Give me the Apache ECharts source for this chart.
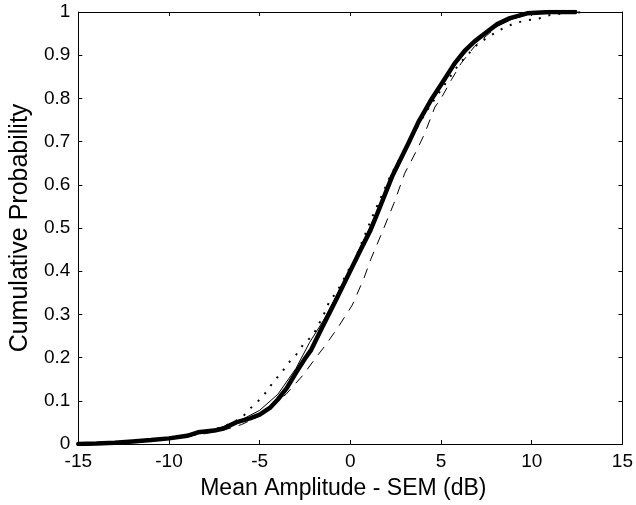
<!DOCTYPE html>
<html>
<head>
<meta charset="utf-8">
<script src="https://cdn.jsdelivr.net/npm/echarts@6/dist/echarts.min.js"></script>
<style>html,body{margin:0;padding:0;background:#fff}#c{width:636px;height:505px}</style>
</head>
<body>
<div id="c"></div>
<script>
// Thick solid curve
var thickCurve = [[-15,0],[-14,0.001],[-13,0.003],[-12,0.006],[-11,0.009],[-10,0.013],[-9,0.019],[-8.4,0.027],[-7.5,0.031],[-7,0.036],[-6.3,0.05],[-5.5,0.06],[-5,0.068],[-4.4,0.085],[-4,0.103],[-3.5,0.13],[-3,0.165],[-2.5,0.198],[-2.16,0.218],[-1.53,0.272],[-0.8,0.333],[-0.07,0.395],[0.56,0.449],[1.11,0.495],[1.5,0.535],[2.3,0.619],[3.2,0.696],[3.75,0.745],[4.5,0.80],[5.2,0.845],[5.75,0.881],[6.3,0.91],[6.85,0.932],[7.5,0.953],[8.1,0.972],[8.8,0.986],[9.75,0.997],[11,1],[12.4,1]];
// Thin solid curve
var thinCurve = [[-15,0],[-12,0.005],[-10,0.013],[-8,0.028],[-7,0.04],[-6,0.056],[-5,0.078],[-4,0.115],[-3,0.175],[-2.25,0.235],[-1.5,0.285],[-0.8,0.34],[0,0.405],[0.5,0.452],[1.4,0.53],[2.3,0.62],[3.2,0.69],[4,0.76],[5,0.83],[6,0.89],[7,0.935],[8,0.965],[9,0.985],[10,0.997],[10.5,1]];
// Dashed curve
var dashedCurve = [[-15,0],[-12,0.004],[-10,0.011],[-8,0.024],[-7,0.032],[-6,0.045],[-5,0.065],[-4.6,0.079],[-3.55,0.115],[-2.6,0.16],[-1.9,0.20],[-1.44,0.225],[-0.71,0.268],[0.11,0.322],[0.75,0.384],[1.11,0.426],[1.75,0.49],[2.4,0.557],[3.0,0.627],[3.66,0.68],[4.1,0.719],[4.66,0.78],[5.0,0.80],[5.57,0.843],[6.1,0.881],[6.84,0.92],[7.5,0.945],[8.2,0.97],[9,0.985],[10,0.996],[11,1]];
// Dotted curve
var dottedCurve = [[-15,0],[-12,0.005],[-10,0.014],[-8,0.028],[-7,0.04],[-6,0.06],[-5.5,0.083],[-5.07,0.1],[-4.62,0.121],[-4.25,0.144],[-3.8,0.165],[-3.43,0.187],[-3,0.206],[-2.62,0.229],[-2.07,0.252],[-1.8,0.272],[-1.44,0.302],[-1.16,0.33],[-0.8,0.349],[-0.43,0.376],[-0.16,0.399],[0.2,0.422],[1.2,0.525],[2.2,0.62],[3.1,0.69],[4.16,0.768],[5,0.82],[6,0.88],[7,0.925],[7.7,0.945],[8.4,0.962],[9.05,0.974],[9.75,0.981],[10.4,0.985],[11,0.993],[12,0.998],[13,1]];

var xTicks = [-15,-10,-5,0,5,10,15];
var yTicks = [0,0.1,0.2,0.3,0.4,0.5,0.6,0.7,0.8,0.9,1];
var xTitle = 'Mean Amplitude - SEM (dB)';
var yTitle = 'Cumulative Probability';

var FONT = '"Liberation Sans", Arial, Helvetica, sans-serif';
var chart = echarts.init(document.getElementById('c'), null, {renderer:'canvas'});
var axLine = {show:true, onZero:false, lineStyle:{color:'#000', width:1}};
var tick = {show:true, inside:true, length:4, lineStyle:{color:'#000', width:1}};
function yFmt(v){ var r = Math.round(v*10)/10; return String(r); }
chart.setOption({
  animation:false,
  backgroundColor:'#fff',
  grid:{left:73, right:13, top:12, bottom:61, containLabel:false},
  xAxis:[
    {type:'value', min:xTicks[0], max:xTicks[xTicks.length-1], interval:5, position:'bottom',
     axisLine:axLine, axisTick:tick, splitLine:{show:false},
     axisLabel:{color:'#000', fontSize:19, fontFamily:FONT, margin:8},
     name:xTitle, nameLocation:'middle', nameGap:33,
     nameTextStyle:{color:'#000', fontSize:23, fontFamily:FONT, padding:[0,14,0,0]}},
    {type:'value', min:xTicks[0], max:xTicks[xTicks.length-1], interval:5, position:'top',
     axisLine:axLine, axisTick:tick, splitLine:{show:false}, axisLabel:{show:false}}
  ],
  yAxis:[
    {type:'value', min:yTicks[0], max:yTicks[yTicks.length-1], interval:0.1, position:'left',
     axisLine:axLine, axisTick:tick, splitLine:{show:false},
     axisLabel:{color:'#000', fontSize:19, fontFamily:FONT, margin:8, formatter:yFmt},
     name:yTitle, nameLocation:'middle', nameGap:42,
     nameTextStyle:{color:'#000', fontSize:25, fontFamily:FONT}},
    {type:'value', min:yTicks[0], max:yTicks[yTicks.length-1], interval:0.1, position:'right',
     axisLine:axLine, axisTick:tick, splitLine:{show:false}, axisLabel:{show:false}}
  ],
  series:[
    {type:'line', data:thickCurve, showSymbol:false, smooth:false,
     lineStyle:{color:'#000', width:4.5, join:'round', cap:'round'}, z:2},
    {type:'line', data:dashedCurve, showSymbol:false, smooth:false,
     lineStyle:{color:'#000', width:1, type:[10,8]}, z:3},
    {type:'line', data:thinCurve, showSymbol:false, smooth:false,
     lineStyle:{color:'#000', width:1}, z:3},
    {type:'line', data:dottedCurve, showSymbol:false, smooth:false,
     lineStyle:{color:'#000', width:2, type:[2,8]}, z:4}
  ]
});
</script>
</body>
</html>
